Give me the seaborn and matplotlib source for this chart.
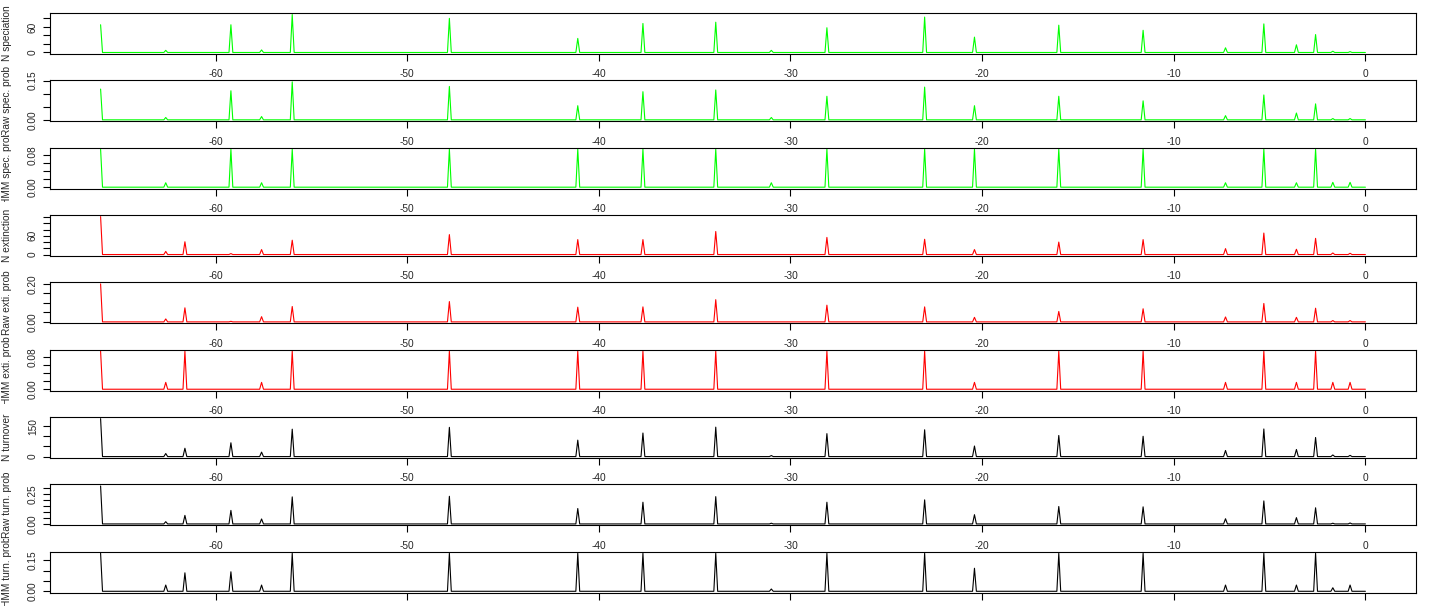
import numpy as np
import pandas as pd
import matplotlib
matplotlib.use("Agg")
import matplotlib.pyplot as plt
import seaborn as sns
from matplotlib.transforms import Bbox, TransformedBbox

# times of the peaks (Ma, negative = before present)
peak_times = [-66.0, -62.6, -61.6, -59.2, -57.6, -56.0, -47.8, -41.1, -37.7, -33.9, -31.0,
              -28.1, -23.0, -20.4, -16.0, -11.6, -7.3, -5.3, -3.6, -2.6, -1.7, -0.8]

# speciation
n_spec = [65, 5, 0, 65, 6, 89, 80, 33, 68, 71, 5, 58, 83, 36, 64, 52, 11, 67, 18, 42, 3, 2]
raw_spec = [0.1175, 0.009, 0, 0.111, 0.0125, 0.145, 0.1275, 0.054, 0.1075, 0.114, 0.009,
            0.09, 0.125, 0.054, 0.09, 0.0725, 0.016, 0.095, 0.026, 0.061, 0.005, 0.005]
hmm_spec = [0.094, 0.011, 0, 0.094, 0.011, 0.094, 0.094, 0.094, 0.094, 0.094, 0.011,
            0.094, 0.094, 0.094, 0.094, 0.094, 0.011, 0.094, 0.011, 0.094, 0.012, 0.012]

# extinction
n_ext = [122, 10, 41, 3, 16, 46, 64, 48, 48, 74, 0, 55, 49, 16, 40, 48, 19, 69, 17, 52, 5, 4]
raw_ext = [0.2, 0.0155, 0.074, 0.003, 0.0275, 0.081, 0.107, 0.0775, 0.079, 0.117, 0,
           0.088, 0.079, 0.024, 0.055, 0.069, 0.026, 0.097, 0.024, 0.072, 0.007, 0.007]
hmm_ext = [0.094, 0.017, 0.094, 0, 0.017, 0.094, 0.094, 0.094, 0.094, 0.094, 0,
           0.094, 0.094, 0.017, 0.094, 0.094, 0.017, 0.094, 0.017, 0.094, 0.017, 0.017]

# turnover
n_turn = [187, 15, 41, 68, 22, 135, 144, 81, 116, 145, 5, 113, 132, 52, 104, 100, 30, 136, 35, 94, 8, 6]
raw_turn = [0.32, 0.019, 0.072, 0.114, 0.042, 0.228, 0.233, 0.13, 0.183, 0.23, 0.006,
            0.183, 0.203, 0.078, 0.147, 0.144, 0.044, 0.194, 0.053, 0.136, 0.006, 0.008]
hmm_turn = [0.183, 0.030, 0.089, 0.094, 0.030, 0.183, 0.183, 0.183, 0.183, 0.183, 0.011,
            0.183, 0.183, 0.111, 0.183, 0.183, 0.030, 0.183, 0.030, 0.183, 0.017, 0.030]

labels = ["N speciation", "Raw spec. prob", "HMM spec. prob",
          "N extinction", "Raw exti. prob", "HMM exti. prob",
          "N turnover", "Raw turn. prob", "HMM turn. prob"]
series = [n_spec, raw_spec, hmm_spec, n_ext, raw_ext, hmm_ext, n_turn, raw_turn, hmm_turn]
colors = ["#00FF00"] * 3 + ["#FF0000"] * 3 + ["black"] * 3

yticks = [[0, 20, 40, 60, 80], [0, 0.05, 0.10, 0.15], [0, 0.02, 0.04, 0.06, 0.08],
          [0, 20, 40, 60, 80, 100, 120], [0, 0.05, 0.10, 0.15, 0.20], [0, 0.02, 0.04, 0.06, 0.08],
          [0, 50, 100, 150], [0, 0.05, 0.10, 0.15, 0.20, 0.25, 0.30], [0, 0.05, 0.10, 0.15]]
ytick_labels = [["0", "", "", "60", ""], ["0.00", "", "", "0.15"], ["0.00", "", "", "", "0.08"],
                ["0", "", "", "60", "", "", ""], ["0.00", "", "", "", "0.20"], ["0.00", "", "", "", "0.08"],
                ["0", "", "", "150"], ["0.00", "", "", "", "", "0.25", ""], ["0.00", "", "", "0.15"]]
xticks = [-60, -50, -40, -30, -20, -10, 0]

# time grid, 0.1 Ma steps
t = np.round(np.arange(-660, 1) / 10, 1)


def make_df(vals):
    y = np.zeros(len(t))
    for pt, v in zip(peak_times, vals):
        y[np.argmin(np.abs(t - pt))] = v
    return pd.DataFrame({"time": t, "value": y})


sns.set_style("ticks")
plt.rcParams["font.family"] = ["Liberation Sans", "DejaVu Sans"]

W, H = 1429, 606
fig = plt.figure(figsize=(W / 100, H / 100), dpi=100)

for i in range(9):
    top = 13 + 67.35 * i
    ax = fig.add_axes([50 / W, 1 - (top + 41) / H, 1366 / W, 41 / H])
    df = make_df(series[i])
    sns.lineplot(data=df, x="time", y="value", ax=ax, color=colors[i],
                 linewidth=0.8, estimator=None)
    ax.margins(x=0.04, y=0.04)
    ax.set_xlabel("")
    ax.set_ylabel("")
    ax.set_xticks(xticks)
    ax.set_xticklabels([str(v) for v in xticks], fontsize=7.3)
    ax.set_yticks(yticks[i])
    ax.set_yticklabels(ytick_labels[i], fontsize=7.3, rotation=90, va="center")
    # last row: the tick labels fall below the page in the original
    ax.tick_params(axis="x", length=4.7, width=0.8, pad=6.3, color="black",
                   labelbottom=(i < 8))
    ax.tick_params(axis="y", length=4.7, width=0.8, pad=4.0, color="black")
    for s in ax.spines.values():
        s.set_visible(True)
        s.set_color("black")
        s.set_linewidth(0.8)

    # y label clipped to its own figure row, like R does
    txt = fig.text(7.5 / W, 1 - (top + 20.5) / H, labels[i], rotation=90,
                   ha="center", va="center", fontsize=7.3)
    clip = Bbox([[0, 1 - (i + 1) / 9], [1, 1 - i / 9]])
    txt.set_clip_box(TransformedBbox(clip, fig.transFigure))
    txt.set_clip_on(True)

fig.savefig("out.png", dpi=100)
